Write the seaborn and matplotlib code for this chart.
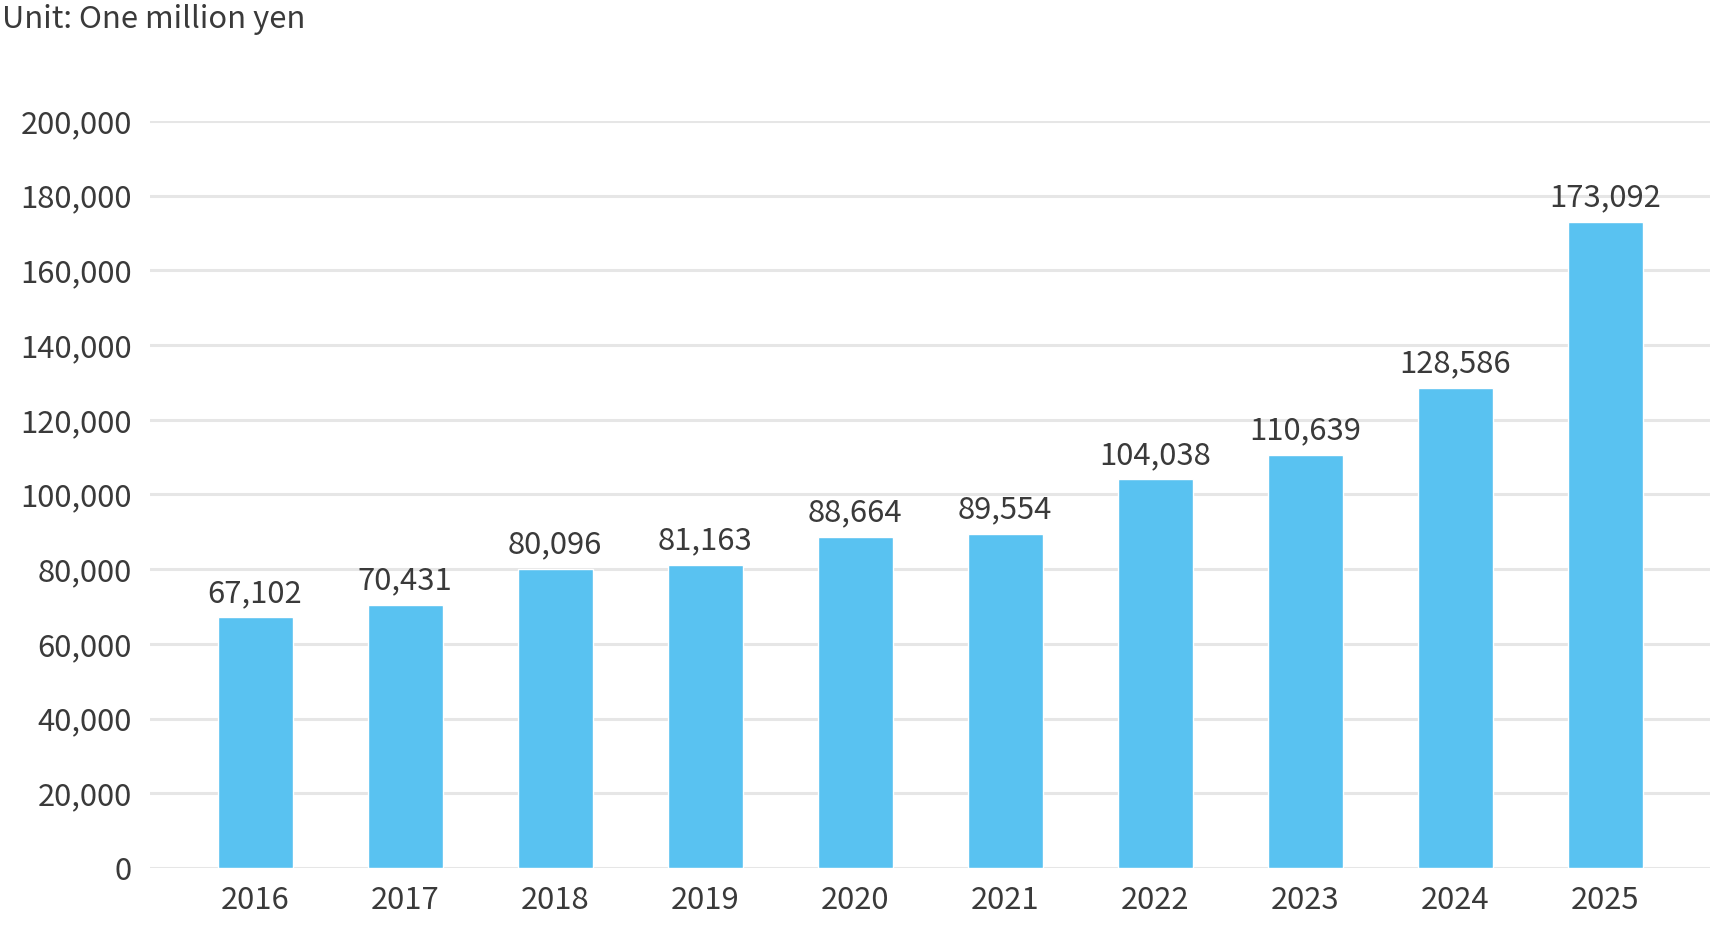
import matplotlib
matplotlib.use("Agg")
import matplotlib.pyplot as plt
import seaborn as sns
import pandas as pd

years = ["2016", "2017", "2018", "2019", "2020", "2021", "2022", "2023", "2024", "2025"]
values = [67102, 70431, 80096, 81163, 88664, 89554, 104038, 110639, 128586, 173092]
yticks = [0, 20000, 40000, 60000, 80000, 100000, 120000, 140000, 160000, 180000, 200000]
unit_label = "Unit: One million yen"

sns.set_theme(style="white")
plt.rcParams['font.family'] = ['Noto Sans CJK JP', 'DejaVu Sans']
text_color = "#3a3a3a"
bar_color = "#59C2F1"
grid_color = "#e6e6e6"

df = pd.DataFrame({"year": years, "value": values})

fig = plt.figure(figsize=(17.1, 9.3), dpi=100)
ax = fig.add_axes([150/1710, 1 - 868/930, 1 - 150/1710, (868 - 121)/930])

sns.barplot(data=df, x="year", y="value", color=bar_color, width=0.5,
            saturation=1, ax=ax, zorder=3)

ax.set_xlim(-0.7, 9.7)
ax.set_ylim(0, 200000)
ax.set_yticks(yticks)
ax.set_yticklabels([f"{v:,}" for v in yticks])
ax.yaxis.grid(True, color=grid_color, linewidth=2.2, zorder=0)
ax.set_axisbelow(True)
for s in ax.spines.values():
    s.set_visible(False)
ax.tick_params(axis="y", length=0, pad=13, labelsize=22.3, labelcolor=text_color)
ax.tick_params(axis="x", length=0, pad=12, labelsize=22.3, labelcolor=text_color)
ax.set_xlabel("")
ax.set_ylabel("")

for container in ax.containers:
    ax.bar_label(container, labels=[f"{v:,}" for v in values], padding=6,
                 fontsize=22.3, color=text_color, zorder=4)

fig.text(2/1710, 1 - 4/930, unit_label, ha="left", va="top", fontsize=22.3, color=text_color)

fig.savefig("out.png", dpi=100, facecolor="white")
